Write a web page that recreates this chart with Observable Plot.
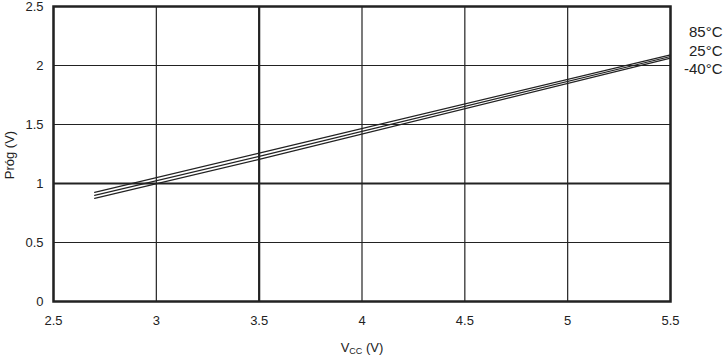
<!DOCTYPE html>
<html><head><meta charset="utf-8">
<script src="https://cdn.jsdelivr.net/npm/d3@7"></script>
<script src="https://cdn.jsdelivr.net/npm/@observablehq/plot@0.6"></script>
<style>body{margin:0;background:#fff;} svg{font-family:"Liberation Sans",Arial,sans-serif;}</style>
</head><body><div id="chart"></div>
<script>
const vcc = [2.7, 3.5, 5.5];
const series = ["85°C", "25°C", "-40°C"];
const prog85 = [0.925, 1.257, 2.09];
const prog25 = [0.899, 1.230, 2.076];
const progM40 = [0.874, 1.204, 2.062];
const xTicks = [2.5, 3, 3.5, 4, 4.5, 5, 5.5];
const yTicks = [0, 0.5, 1, 1.5, 2, 2.5];
const boldX = [3.5];
const boldY = [1];

const vals = [prog85, prog25, progM40];
const rows = [];
series.forEach((s, i) => vcc.forEach((x, j) => rows.push({series: s, x, y: vals[i][j]})));

const ink = "#222";
const plot = Plot.plot({
  width: 724, height: 357,
  marginLeft: 53, marginRight: 54, marginTop: 6, marginBottom: 56,
  style: {fontFamily: "Liberation Sans, Arial, sans-serif", fontSize: "13px", color: ink, background: "#fff"},
  x: {domain: [2.5, 5.5]},
  y: {domain: [0, 2.5]},
  marks: [
    Plot.ruleX(xTicks, {stroke: ink, strokeWidth: 1.2}),
    Plot.ruleY(yTicks, {stroke: ink, strokeWidth: 1.2}),
    Plot.ruleX(boldX, {stroke: ink, strokeWidth: 2.2}),
    Plot.ruleY(boldY, {stroke: ink, strokeWidth: 2.2}),
    Plot.line(rows, {x: "x", y: "y", z: "series", stroke: ink, strokeWidth: 1.2}),
    Plot.frame({stroke: ink, strokeWidth: 2.5}),
    Plot.axisX(xTicks, {tickSize: 0, tickPadding: 14, tickFormat: d => String(d), label: null, fill: ink}),
    Plot.axisY(yTicks, {tickSize: 0, tickPadding: 10, tickFormat: d => String(d), label: null, fill: ink}),
    ...series.map((s, i) => Plot.text([s], {frameAnchor: "top-right", text: d => d, textAnchor: "end", dx: 52, dy: 20 + i * 18.5, fill: ink, fontSize: 15}))
  ]
});
const svg = d3.select(plot);
const xl = svg.append("text").attr("x", 362).attr("y", 352).attr("text-anchor", "middle").attr("fill", ink).attr("font-size", 13);
xl.append("tspan").text("V");
xl.append("tspan").attr("font-size", 9).attr("dy", 2).text("CC");
xl.append("tspan").attr("dy", -2).text(" (V)");
svg.append("text").attr("transform", "translate(14,155) rotate(-90)").attr("text-anchor", "middle").attr("fill", ink).attr("font-size", 13).text("Próg (V)");
document.getElementById("chart").appendChild(plot);
</script></body></html>
